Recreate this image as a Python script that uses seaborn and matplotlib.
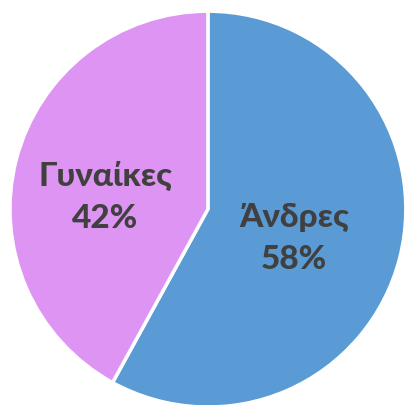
import numpy as np
import matplotlib
matplotlib.use("Agg")
import matplotlib.pyplot as plt
import seaborn as sns

# ── Data ───────────────────────────────────────────────────────────────────
categories = ["Άνδρες", "Γυναίκες"]
shares = [58, 42]

COLORS = ["#5B9BD5", "#DE94F2"]
TEXT = "#404040"

sns.set_theme(style="white")
plt.rcParams["font.family"] = ["Lato", "DejaVu Sans"]

fig = plt.figure(figsize=(4.06, 4.06), dpi=100)
ax = fig.add_axes([0.0246, -0.005, 0.975, 0.975])

wedges, _ = ax.pie(
    shares, colors=COLORS, startangle=90, counterclock=False,
    wedgeprops=dict(edgecolor="white", linewidth=2.5),
)

# label radius / vertical nudge per slice (fractions of radius)
dists = [0.45, 0.535]
nudges = [-0.03, -0.067]
for w, cat, val, d, dy in zip(wedges, categories, shares, dists, nudges):
    ang = np.deg2rad((w.theta1 + w.theta2) / 2)
    ax.text(d * np.cos(ang), d * np.sin(ang) + dy, f"{cat}\n{val}%",
            ha="center", va="center", fontsize=24, fontweight="black",
            color=TEXT, linespacing=1.55)

ax.set_xlim(-1.0, 1.0)
ax.set_ylim(-1.0, 1.0)
ax.set_aspect("equal")
fig.savefig("out.png", dpi=100, facecolor="white")
